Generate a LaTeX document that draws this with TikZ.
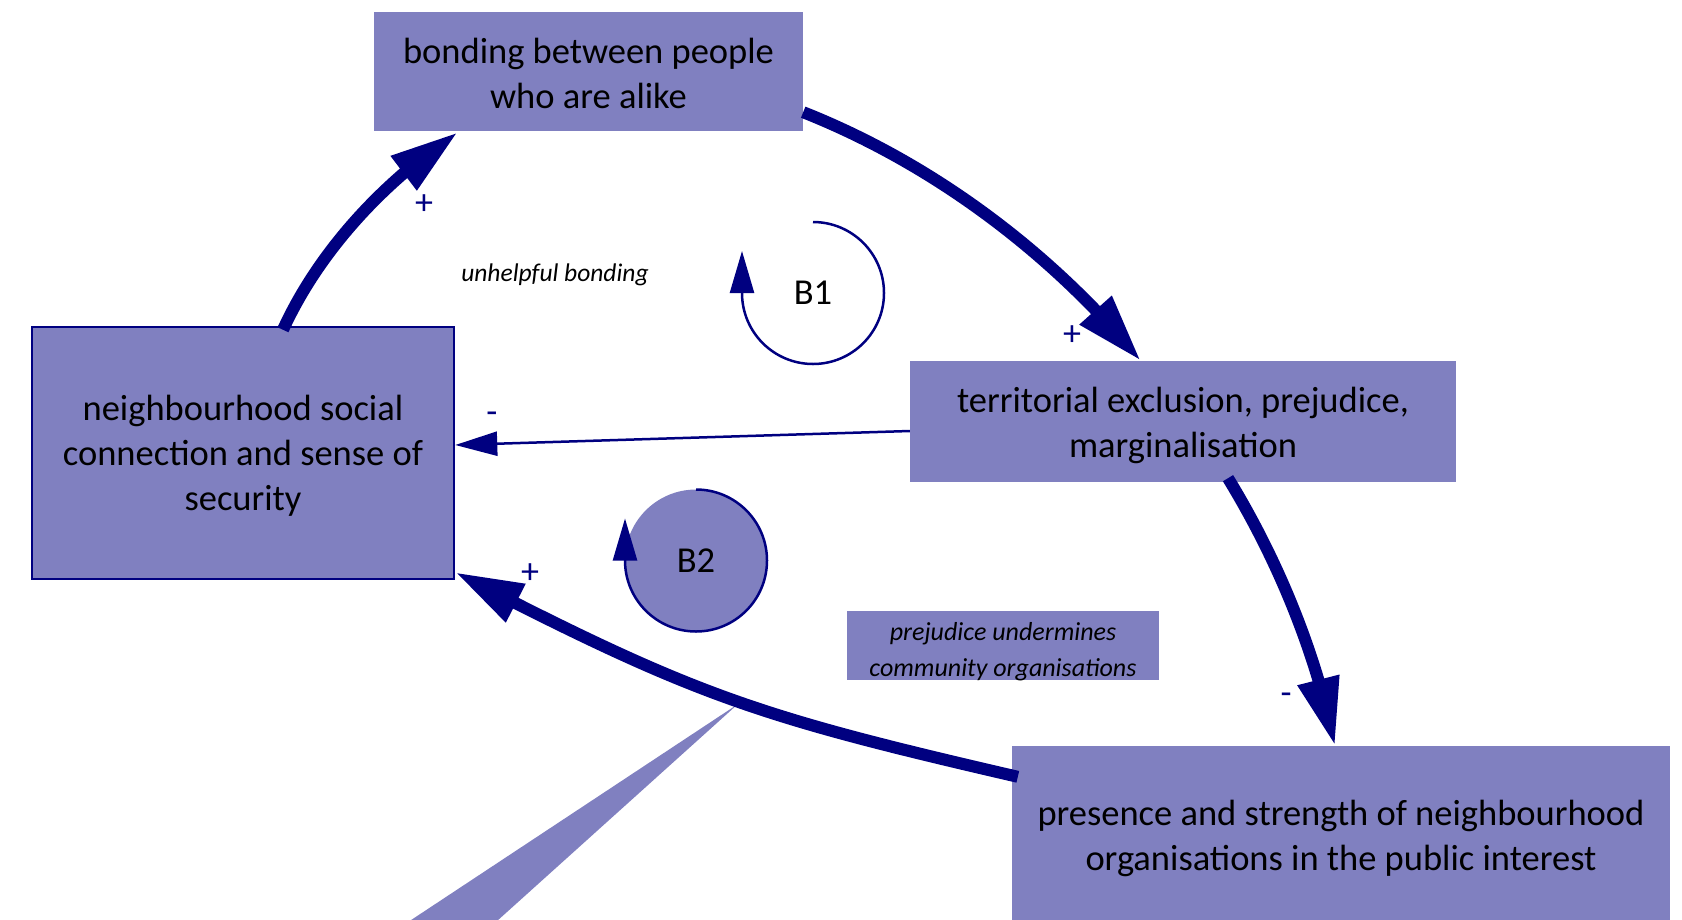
\documentclass[tikz,border=0pt]{standalone}
\usepackage{fontspec}
\setmainfont{Carlito}
\usetikzlibrary{arrows.meta,bending}
\definecolor{boxfill}{RGB}{128,128,192}
\definecolor{navyline}{RGB}{0,0,128}
% taller first line, so that the text block sits a little lower in its box
\newcommand{\firstlinestrut}[1]{\rule{0pt}{#1}}

\begin{document}
\begin{tikzpicture}[x=1pt,y=-1pt,
  varbox/.style={fill=boxfill, inner sep=0pt, align=center,
    font=\fontsize{36.5}{45}\selectfont},
  notebox/.style={fill=boxfill, inner sep=0pt, align=center,
    font=\fontsize{26}{35.5}\selectfont\itshape},
  thicklink/.style={draw=navyline, line width=12pt,
    -{Triangle[length=68pt,width=40pt]}},
  thinlink/.style={draw=navyline, line width=2.5pt,
    -{Triangle[length=42pt,width=24pt]}},
  polarity/.style={text=navyline, inner sep=0pt,
    font=\fontsize{36}{36}\selectfont},
  looplabel/.style={inner sep=0pt, font=\fontsize{36.5}{36}\selectfont}]

\useasboundingbox (0,0) rectangle (1682,919);

% callout wedge pointing at the organisations link
\fill[boxfill] (738,704) -- (487,930) -- (396,930) -- cycle;

% variables
\node[varbox, minimum width=429pt, minimum height=119pt] (bond) at (588.5,71.5)
  {\firstlinestrut{30pt}bonding between people\\who are alike};
\node[varbox, draw=navyline, line width=2.5pt, minimum width=422pt, minimum height=252pt]
  (nbh) at (243,453)
  {\firstlinestrut{30pt}neighbourhood social\\connection and sense of\\security};
\node[varbox, minimum width=546pt, minimum height=121pt] (terr) at (1183,421.5)
  {\firstlinestrut{34pt}territorial exclusion, prejudice,\\marginalisation};
\node[varbox, minimum width=658pt, minimum height=178pt] (pres) at (1341,835)
  {\firstlinestrut{32pt}presence and strength of neighbourhood\\organisations in the public interest};

% notes
\node[notebox, minimum width=312pt, minimum height=67pt] (note) at (1003,645.5)
  {\firstlinestrut{30pt}prejudice undermines\\community organisations};
\node[inner sep=0pt, font=\fontsize{25.5}{30}\selectfont\itshape] (unhelp) at (555,275)
  {unhelpful bonding};

% loop markers
\coordinate (b1c) at (813,293);
\coordinate (b2c) at (696,560.5);
\fill[boxfill] (b2c) circle[radius=71];
\draw[thinlink] ([shift={(0,-71)}]b1c) arc[start angle=-90, end angle=180, radius=71] -- ++(0,-42);
\draw[thinlink] ([shift={(0,-71)}]b2c) arc[start angle=-90, end angle=180, radius=71] -- ++(0,-42);
\node[looplabel] (b1) at (b1c) {B1};
\node[looplabel] (b2) at (b2c) {B2};

% causal links
\draw[thicklink] ([shift={(40,4)}]nbh.north)
  .. controls (319,251) and (384,181) .. ([shift={(84,1)}]bond.south west);
\draw[thicklink] ([shift={(0,-19)}]bond.south east)
  .. controls (934,164) and (1053,254) .. ([shift={(231,0)}]terr.north west);
\draw[thinlink] ([shift={(0,9.5)}]terr.west) -- ([shift={(0,-8)}]nbh.east);
\draw[thicklink] ([shift={(45,-4)}]terr.south)
  .. controls (1278,560) and (1316,653) .. ([shift={(-6,0)}]pres.north);
\draw[thicklink] ([shift={(6,31)}]pres.north west)
  .. controls (755,716) and (695,696) .. ([shift={(0,-8)}]nbh.south east);

% link polarities
\node[polarity] (p1) at (424,205) {+};
\node[polarity] (p2) at (1072,336) {+};
\node[polarity] (p3) at (492,418) {-};
\node[polarity] (p4) at (530,574) {+};
\node[polarity] (p5) at (1286,699) {-};
\end{tikzpicture}
\end{document}
